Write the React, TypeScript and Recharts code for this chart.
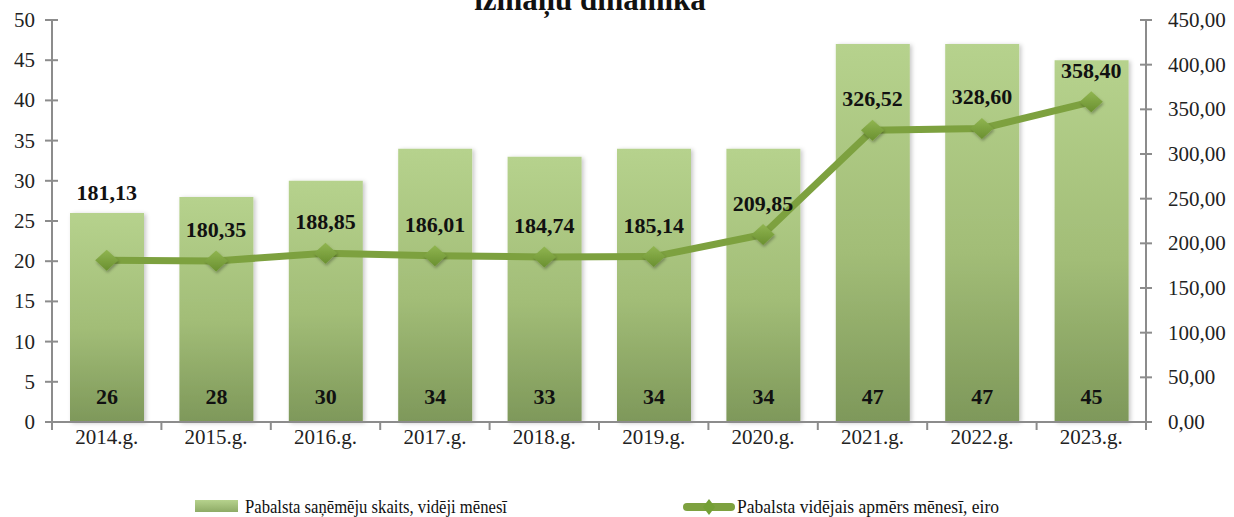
import React from 'react';
import { ComposedChart, Bar, Line, XAxis, YAxis, LabelList } from 'recharts';

const years = ['2014.g.', '2015.g.', '2016.g.', '2017.g.', '2018.g.', '2019.g.', '2020.g.', '2021.g.', '2022.g.', '2023.g.'];
const recipients = [26, 28, 30, 34, 33, 34, 34, 47, 47, 45];
const avgAmount = [181.13, 180.35, 188.85, 186.01, 184.74, 185.14, 209.85, 326.52, 328.6, 358.4];
const leftTicks = [0, 5, 10, 15, 20, 25, 30, 35, 40, 45, 50];
const rightTicks = [0, 50, 100, 150, 200, 250, 300, 350, 400, 450];
const titleText = 'izmaņu dinamika';
const legendBarText = 'Pabalsta saņēmēju skaits, vidēji mēnesī';
const legendLineText = 'Pabalsta vidējais apmērs mēnesī, eiro';

const data = years.map((y, i) => ({ year: y, count: recipients[i], amount: avgAmount[i] }));

const W = 1234;
const H = 517;
const LEFT_W = 52;
const RIGHT_W = 88;
const BAND = (W - LEFT_W - RIGHT_W) / years.length;
const FONT = '"Liberation Serif", "Times New Roman", serif';
const AXIS = '#8c8c8c';
const LINE = '#7da13f';

const fmt = (v: number) => v.toFixed(2).replace('.', ',');

const LeftTick = (p: any) => (
  <g>
    <line x1={p.x - 7} x2={p.x + 6} y1={p.y} y2={p.y} stroke={AXIS} strokeWidth={2} />
    <text x={p.x - 17} y={p.y} dy={7} textAnchor="end" fontFamily={FONT} fontSize={21} fill="#222">
      {p.payload.value}
    </text>
  </g>
);

const RightTick = (p: any) => (
  <g>
    <line x1={p.x - 6} x2={p.x + 6} y1={p.y} y2={p.y} stroke={AXIS} strokeWidth={2} />
    <text x={p.x + 22} y={p.y} dy={7} textAnchor="start" fontFamily={FONT} fontSize={21} fill="#222">
      {fmt(p.payload.value)}
    </text>
  </g>
);

const XTick = (p: any) => (
  <g>
    <line x1={p.x - BAND / 2} x2={p.x - BAND / 2} y1={p.y} y2={p.y + 8} stroke={AXIS} strokeWidth={2} />
    {p.index === years.length - 1 && (
      <line x1={p.x + BAND / 2} x2={p.x + BAND / 2} y1={p.y} y2={p.y + 8} stroke={AXIS} strokeWidth={2} />
    )}
    <text x={p.x} y={p.y + 22} textAnchor="middle" fontFamily={FONT} fontSize={21} fill="#222">
      {p.payload.value}
    </text>
  </g>
);

const Diamond = (p: any) => {
  const { cx, cy } = p;
  if (cx == null || cy == null) return null;
  return (
    <polygon
      points={`${cx},${cy - 10.5} ${cx + 11.5},${cy} ${cx},${cy + 10.5} ${cx - 11.5},${cy}`}
      fill="url(#diamondGrad)"
      filter="url(#softShadow)"
    />
  );
};

const BarLabel = (p: any) => (
  <text
    x={p.x + p.width / 2}
    y={p.y + p.height - 18}
    textAnchor="middle"
    fontFamily={FONT}
    fontWeight="bold"
    fontSize={22}
    fill="#111"
  >
    {p.value}
  </text>
);

const LineLabel = (p: any) => (
  <text
    x={p.x}
    y={p.y - (p.index === 0 ? 60 : 24)}
    textAnchor="middle"
    fontFamily={FONT}
    fontWeight="bold"
    fontSize={22}
    fill="#111"
  >
    {fmt(p.value)}
  </text>
);

export default function App() {
  return (
    <div style={{ position: 'absolute', left: 0, top: 0, width: W, height: H, background: '#fff', overflow: 'hidden' }}>
      <svg width={W} height={H} style={{ position: 'absolute', left: 0, top: 0 }}>
        <defs>
          <linearGradient id="legendBarGrad" x1="0" y1="0" x2="0" y2="1">
            <stop offset="0%" stopColor="#b6d28d" />
            <stop offset="100%" stopColor="#8eab66" />
          </linearGradient>
        </defs>
      </svg>
      <ComposedChart
        width={W}
        height={H}
        data={data}
        margin={{ top: 20, right: 0, bottom: 65, left: 0 }}
      >
        <defs>
          <linearGradient id="barGrad" x1="0" y1="0" x2="0" y2="1">
            <stop offset="0%" stopColor="#b6d28d" />
            <stop offset="55%" stopColor="#a2bd77" />
            <stop offset="100%" stopColor="#7e985a" />
          </linearGradient>
          <linearGradient id="diamondGrad" x1="0" y1="0" x2="0" y2="1">
            <stop offset="0%" stopColor="#90b550" />
            <stop offset="100%" stopColor="#6a9030" />
          </linearGradient>
          <filter id="barShadow" x="-10%" y="-5%" width="125%" height="110%">
            <feDropShadow dx="2" dy="1" stdDeviation="2" floodColor="#000" floodOpacity="0.22" />
          </filter>
          <filter id="softShadow" x="-50%" y="-50%" width="200%" height="200%">
            <feDropShadow dx="1" dy="2" stdDeviation="1.5" floodColor="#000" floodOpacity="0.3" />
          </filter>
        </defs>
        <XAxis
          dataKey="year"
          height={30}
          tickSize={0}
          tickMargin={0}
          tickLine={false}
          axisLine={{ stroke: AXIS, strokeWidth: 2 }}
          tick={<XTick />}
          interval={0}
        />
        <YAxis
          yAxisId="left"
          orientation="left"
          width={LEFT_W}
          domain={[0, 50]}
          ticks={leftTicks}
          tickSize={0}
          tickMargin={0}
          tickLine={false}
          axisLine={{ stroke: AXIS, strokeWidth: 2 }}
          tick={<LeftTick />}
          interval={0}
        />
        <YAxis
          yAxisId="right"
          orientation="right"
          width={RIGHT_W}
          domain={[0, 450]}
          ticks={rightTicks}
          tickSize={0}
          tickMargin={0}
          tickLine={false}
          axisLine={{ stroke: AXIS, strokeWidth: 2 }}
          tick={<RightTick />}
          interval={0}
        />
        <Bar
          yAxisId="left"
          dataKey="count"
          barSize={74}
          fill="url(#barGrad)"
          filter="url(#barShadow)"
          isAnimationActive={false}
        >
          <LabelList dataKey="count" content={<BarLabel />} />
        </Bar>
        <Line
          yAxisId="right"
          dataKey="amount"
          type="linear"
          stroke={LINE}
          strokeWidth={7}
          dot={<Diamond />}
          activeDot={false}
          isAnimationActive={false}
        >
          <LabelList dataKey="amount" content={<LineLabel />} />
        </Line>
      </ComposedChart>
      <svg width={W} height={20} style={{ position: 'absolute', left: 0, top: 0 }}>
        <text x={590} y={10} textAnchor="middle" fontFamily={FONT} fontWeight="bold" fontSize={31} fill="#111">
          {titleText}
        </text>
      </svg>
      <svg width={W} height={30} style={{ position: 'absolute', left: 0, top: 490 }}>
        <rect x={195} y={10} width={43} height={12} fill="url(#legendBarGrad)" />
        <text x={245} y={23} fontFamily={FONT} fontSize={18} fill="#111" textLength={262} lengthAdjust="spacingAndGlyphs">
          {legendBarText}
        </text>
        <line x1={687} x2={731} y1={17} y2={17} stroke={LINE} strokeWidth={8} strokeLinecap="round" />
        <polygon points="709,9 715,17 709,25 703,17" fill="#74a035" />
        <text x={737} y={23} fontFamily={FONT} fontSize={18} fill="#111" textLength={262} lengthAdjust="spacingAndGlyphs">
          {legendLineText}
        </text>
      </svg>
    </div>
  );
}
